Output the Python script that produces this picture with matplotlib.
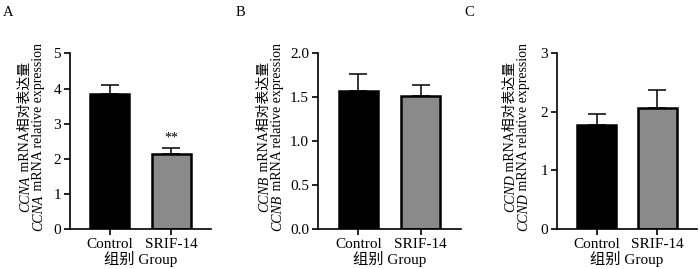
import matplotlib
matplotlib.use("Agg")
import matplotlib.pyplot as plt
from matplotlib.transforms import IdentityTransform

# ---------------- data ----------------
groups = ["Control", "SRIF-14"]
genes = ["CCNA", "CCNB", "CCND"]
panel_letters = ["A", "B", "C"]
means_A = [3.84, 2.12]
errs_A = [0.25, 0.17]
means_B = [1.57, 1.52]
errs_B = [0.20, 0.12]
means_C = [1.78, 2.06]
errs_C = [0.19, 0.32]
yticks_A = [0, 1, 2, 3, 4, 5]
yticks_B = [0.0, 0.5, 1.0, 1.5, 2.0]
yticks_C = [0, 1, 2, 3]
ytick_labels_B = ["0.0", "0.5", "1.0", "1.5", "2.0"]
signif_A = ["", "**"]
ylabel_cn = " mRNA相对表达量"
ylabel_en = " mRNA relative expression"
xlabel_text = "组别 Group"

W, H = 700, 269
fig = plt.figure(figsize=(W / 100, H / 100), dpi=100)

SERIF = "Liberation Serif"
MIXED = [SERIF, "Noto Sans CJK SC"]
plt.rcParams["font.family"] = MIXED

bar_colors = ["#000000", "#8a8a8a"]

# axes geometry in pixels (left spine x, right end x)
ax_px = [(70, 211), (318, 461), (557, 697)]
ylab_off = [(41, 28), (50, 37), (43, 30)]
top_px, bottom_px = 53.5, 228.7

panels = [
    (means_A, errs_A, yticks_A, [str(v) for v in yticks_A], signif_A),
    (means_B, errs_B, yticks_B, ytick_labels_B, ["", ""]),
    (means_C, errs_C, yticks_C, [str(v) for v in yticks_C], ["", ""]),
]

renderer = fig.canvas.get_renderer()


def vtext(x_px, yc_px, pieces, size):
    texts = []
    for s, kw in pieces:
        t = fig.text(0, 0, s, rotation=90, rotation_mode="anchor", ha="left",
                     va="baseline", fontsize=size, transform=IdentityTransform(), **kw)
        texts.append(t)
    lengths = [t.get_window_extent(renderer).height for t in texts]
    y = yc_px - sum(lengths) / 2
    for t, L in zip(texts, lengths):
        t.set_position((x_px, y))
        y += L


for i, (means, errs, yt, ytl, sig) in enumerate(panels):
    l, r = ax_px[i]
    ax = fig.add_axes([l / W, (H - bottom_px) / H, (r - l) / W, (bottom_px - top_px) / H])
    x = [0, 1]
    ax.bar(x, means, width=0.64, color=bar_colors, edgecolor="black", linewidth=1.8, zorder=2)
    ax.errorbar(x, means, yerr=[[0, 0], errs], fmt="none", ecolor="black",
                elinewidth=1.1, capsize=6.5, capthick=1.1, zorder=1)
    ax.set_xlim(-0.65, 1.65)
    ax.set_ylim(yt[0], yt[-1])
    ax.set_yticks(yt)
    ax.set_yticklabels(ytl, fontfamily=SERIF, fontsize=11)
    ax.set_xticks(x)
    ax.set_xticklabels(groups, fontfamily=SERIF, fontsize=11)
    for s in ["top", "right"]:
        ax.spines[s].set_visible(False)
    for s in ["left", "bottom"]:
        ax.spines[s].set_linewidth(1.2)
    ax.tick_params(axis="both", direction="out", length=4.5, width=1.2, pad=2)
    ax.set_xlabel(xlabel_text, fontfamily=MIXED, fontsize=11, labelpad=0)
    ax.patch.set_alpha(0)
    for xi, m, e, s in zip(x, means, errs, sig):
        if s:
            ax.text(xi, m + e + 0.12, s, ha="center", va="bottom", fontfamily=SERIF, fontsize=10)
    yc = H - 137
    o1, o2 = ylab_off[i]
    vtext(l - o1, yc, [(genes[i], dict(fontfamily=SERIF, fontstyle="italic")),
                       (ylabel_cn, dict(fontfamily=MIXED))], 10)
    vtext(l - o2, yc, [(genes[i], dict(fontfamily=SERIF, fontstyle="italic")),
                       (ylabel_en, dict(fontfamily=SERIF))], 10)

letters_px = [(3, 12), (236, 12), (464, 12)]
for (px, py), letter in zip(letters_px, panel_letters):
    fig.text(px / W, 1 - py / H, letter, fontfamily=SERIF, fontsize=10.5, va="center", ha="left")

fig.savefig("out.png", dpi=100)
